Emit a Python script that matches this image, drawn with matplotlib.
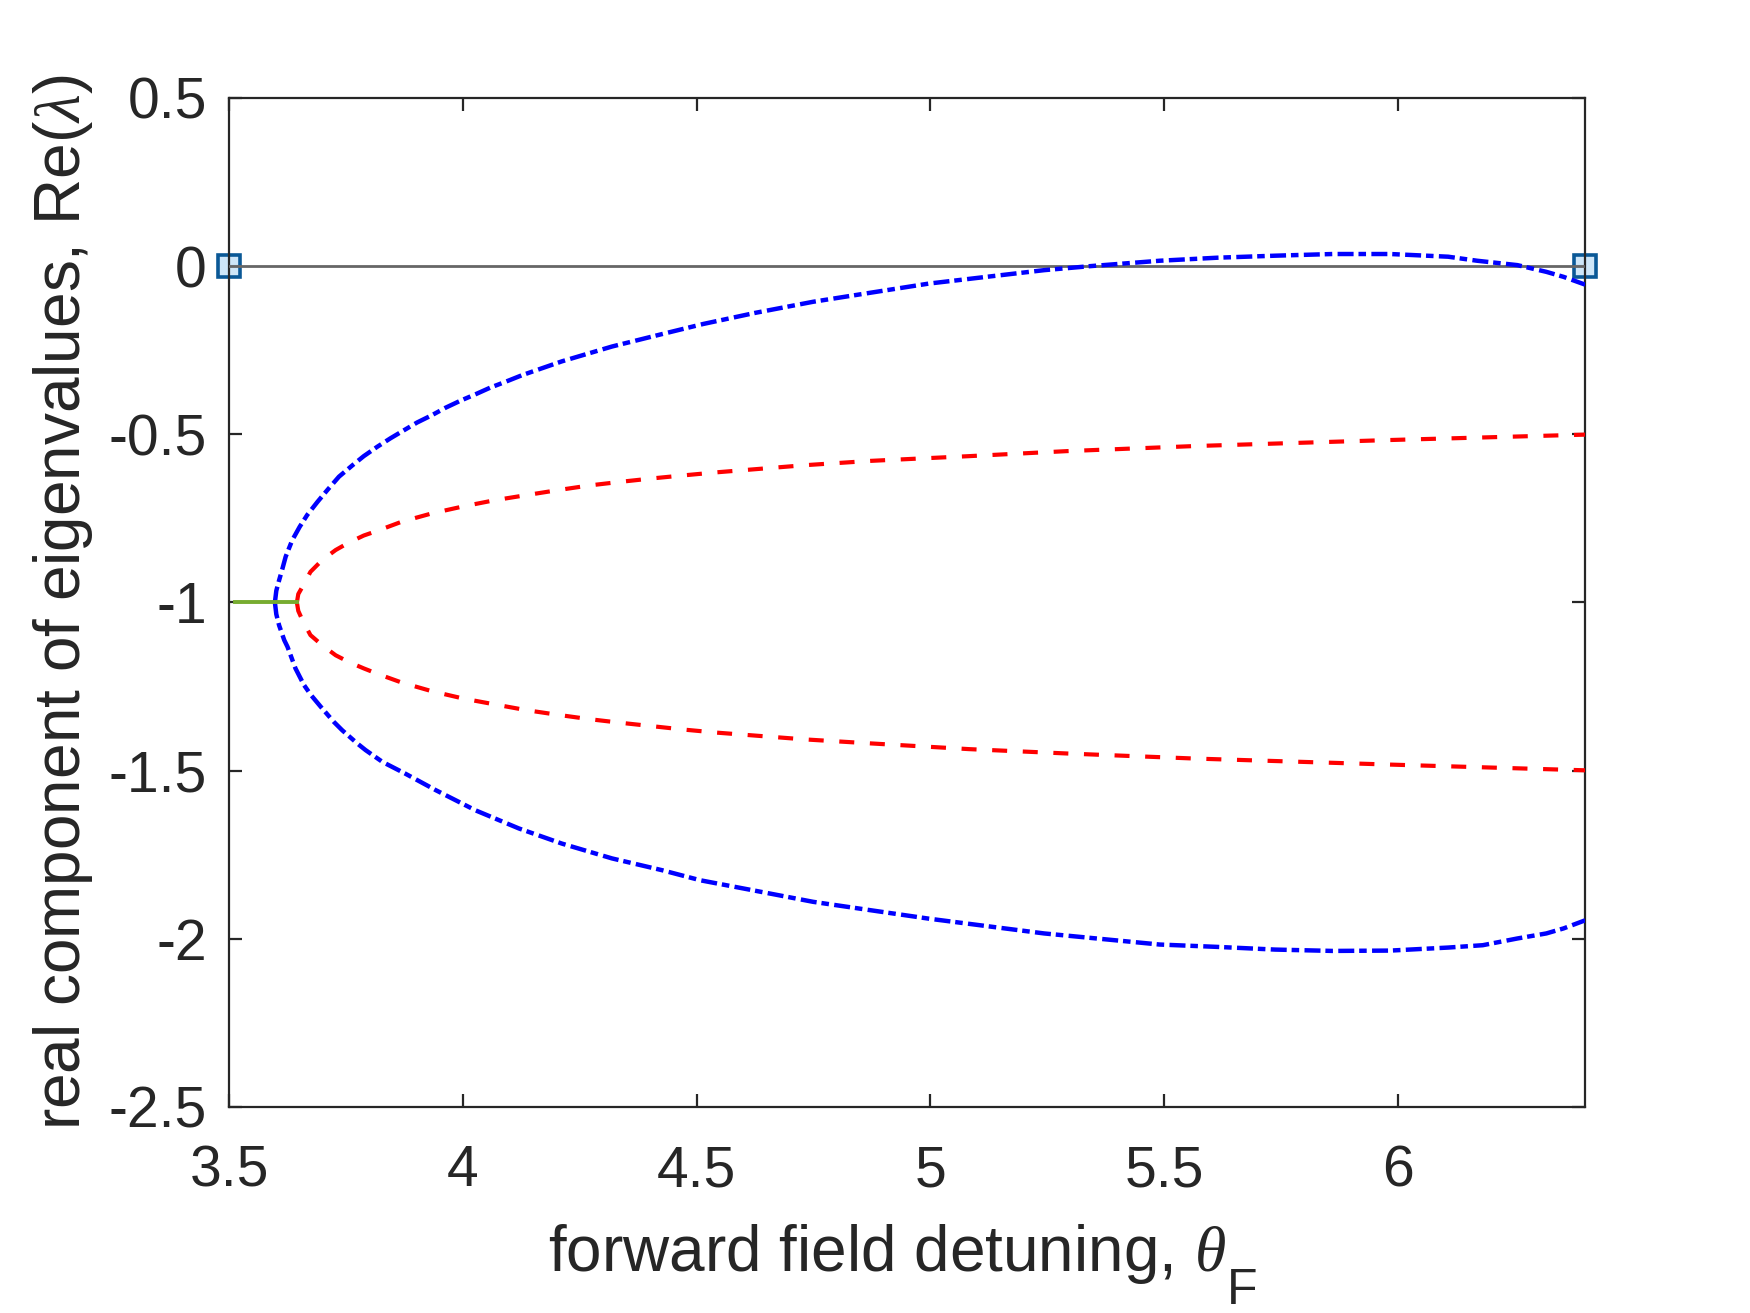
import matplotlib
matplotlib.use('Agg')
import matplotlib.pyplot as plt

# values
green_x = [3.513, 3.645]
green_y = [-1.0, -1.0]

red_up_x = [3.645, 3.648, 3.657, 3.674, 3.699, 3.728, 3.756, 3.788, 3.819, 3.869,
            3.934, 4.002, 4.068, 4.135, 4.203, 4.271, 4.339, 4.406, 4.473, 4.543,
            4.730, 4.872, 5.082, 5.292, 5.564, 5.983, 6.4]
red_up_y = [-1.0, -0.975, -0.953, -0.909, -0.874, -0.844, -0.822, -0.801, -0.786, -0.760,
            -0.735, -0.714, -0.696, -0.681, -0.666, -0.652, -0.641, -0.631, -0.622, -0.613,
            -0.592, -0.579, -0.565, -0.550, -0.535, -0.517, -0.501]

red_lo_x = [3.645, 3.648, 3.657, 3.674, 3.699, 3.728, 3.756, 3.788, 3.819, 3.869,
            3.934, 4.002, 4.068, 4.135, 4.203, 4.271, 4.339, 4.406, 4.473, 4.543,
            4.730, 4.872, 5.082, 5.292, 5.564, 5.983, 6.4]
red_lo_y = [-1.0, -1.025, -1.053, -1.097, -1.127, -1.157, -1.177, -1.196, -1.213, -1.238,
            -1.264, -1.286, -1.303, -1.320, -1.334, -1.347, -1.358, -1.368, -1.378, -1.387,
            -1.407, -1.419, -1.436, -1.449, -1.464, -1.482, -1.499]

blue_up_x = [3.598, 3.601, 3.607, 3.614, 3.621, 3.635, 3.651, 3.667, 3.689, 3.710,
             3.735, 3.764, 3.788, 3.817, 3.845, 3.874, 3.902, 3.934, 3.963, 3.995,
             4.027, 4.059, 4.091, 4.127, 4.212, 4.319, 4.426, 4.514, 4.625, 4.749,
             4.872, 4.996, 5.119, 5.243, 5.342, 5.490, 5.613, 5.737, 5.860, 5.983,
             6.107, 6.169, 6.255, 6.317, 6.354, 6.4]
blue_up_y = [-1.0, -0.965, -0.934, -0.900, -0.864, -0.815, -0.775, -0.740, -0.701, -0.666,
             -0.626, -0.592, -0.565, -0.537, -0.512, -0.488, -0.465, -0.443, -0.421, -0.400,
             -0.381, -0.361, -0.344, -0.324, -0.283, -0.239, -0.202, -0.172, -0.139, -0.106,
             -0.079, -0.052, -0.032, -0.012, 0.0, 0.016, 0.025, 0.031, 0.036, 0.036,
             0.028, 0.016, 0.003, -0.017, -0.032, -0.055]

blue_lo_x = [3.598, 3.601, 3.607, 3.618, 3.625, 3.642, 3.660, 3.675, 3.696, 3.724,
             3.742, 3.774, 3.792, 3.828, 3.877, 3.942, 4.027, 4.120, 4.212, 4.319,
             4.426, 4.508, 4.625, 4.749, 4.872, 4.996, 5.119, 5.243, 5.490, 5.613,
             5.737, 5.860, 5.983, 6.107, 6.181, 6.255, 6.317, 6.354, 6.4]
blue_lo_y = [-1.0, -1.035, -1.068, -1.112, -1.132, -1.196, -1.245, -1.275, -1.310, -1.355,
             -1.380, -1.419, -1.439, -1.474, -1.509, -1.558, -1.618, -1.672, -1.717, -1.761,
             -1.796, -1.826, -1.857, -1.890, -1.915, -1.940, -1.962, -1.984, -2.017, -2.024,
             -2.032, -2.036, -2.035, -2.026, -2.019, -1.999, -1.984, -1.969, -1.945]

end_x = [3.5, 6.4]
end_y = [0.0, 0.0]

x_ticks = [3.5, 4, 4.5, 5, 5.5, 6]
x_ticklabels = ['3.5', '4', '4.5', '5', '5.5', '6']
y_ticks = [-2.5, -2, -1.5, -1, -0.5, 0, 0.5]
y_ticklabels = ['-2.5', '-2', '-1.5', '-1', '-0.5', '0', '0.5']

plt.rcParams['font.family'] = ['Liberation Sans', 'DejaVu Sans']
plt.rcParams['mathtext.fontset'] = 'custom'
plt.rcParams['mathtext.rm'] = 'Liberation Sans'
plt.rcParams['mathtext.it'] = 'Liberation Serif:italic'
plt.rcParams['mathtext.bf'] = 'Liberation Sans:bold'

ink = '#262626'

fig = plt.figure(figsize=(8.75, 6.565), dpi=200)
ax = fig.add_axes([0.1309, 0.1569, 0.7749, 0.7685])

ax.plot(end_x, end_y, color='#666666', lw=1.0, zorder=3)
ax.plot(end_x, end_y, ls='none', marker='s', ms=8.0, mew=1.3,
        mfc=(0.76, 0.88, 0.97, 0.8), mec='#0a5896', clip_on=False, zorder=2)

dashdot = (3.6, 1.1, 1.7, 1.2)
ax.plot(blue_up_x, blue_up_y, color='blue', lw=1.6, dashes=dashdot, zorder=4)
ax.plot(blue_lo_x, blue_lo_y, color='blue', lw=1.6, dashes=dashdot, zorder=4)
ax.plot(red_up_x, red_up_y, color='red', lw=1.5, dashes=(3.6, 3.75), zorder=4)
ax.plot(red_lo_x, red_lo_y, color='red', lw=1.5, dashes=(3.6, 3.75), zorder=4)
ax.plot(green_x, green_y, color='#77ac30', lw=1.4, zorder=4)

ax.set_xlim(3.5, 6.4)
ax.set_ylim(-2.5, 0.5)
ax.set_xticks(x_ticks)
ax.set_xticklabels(x_ticklabels)
ax.set_yticks(y_ticks)
ax.set_yticklabels(y_ticklabels)

for s in ax.spines.values():
    s.set_color(ink)
    s.set_linewidth(0.8)
ax.tick_params(direction='in', length=4.8, width=0.8, color=ink, labelcolor=ink,
               labelsize=20.5, top=True, right=True)
ax.tick_params(axis='x', pad=13.5)
ax.tick_params(axis='y', pad=8)

ax.set_xlabel(r'forward field detuning, $\theta$', fontsize=23, color=ink)
ax.xaxis.set_label_coords(0.485, -0.114)
ax.annotate('F', xy=(1, 0), xycoords=ax.xaxis.label, xytext=(0.5, -6.5),
            textcoords='offset points', ha='left', va='baseline',
            fontsize=18, color=ink)
ax.set_ylabel(r'real component of eigenvalues, Re($\lambda$)', fontsize=23, color=ink, labelpad=5)

plt.savefig('out.png', dpi=200, facecolor='white')
